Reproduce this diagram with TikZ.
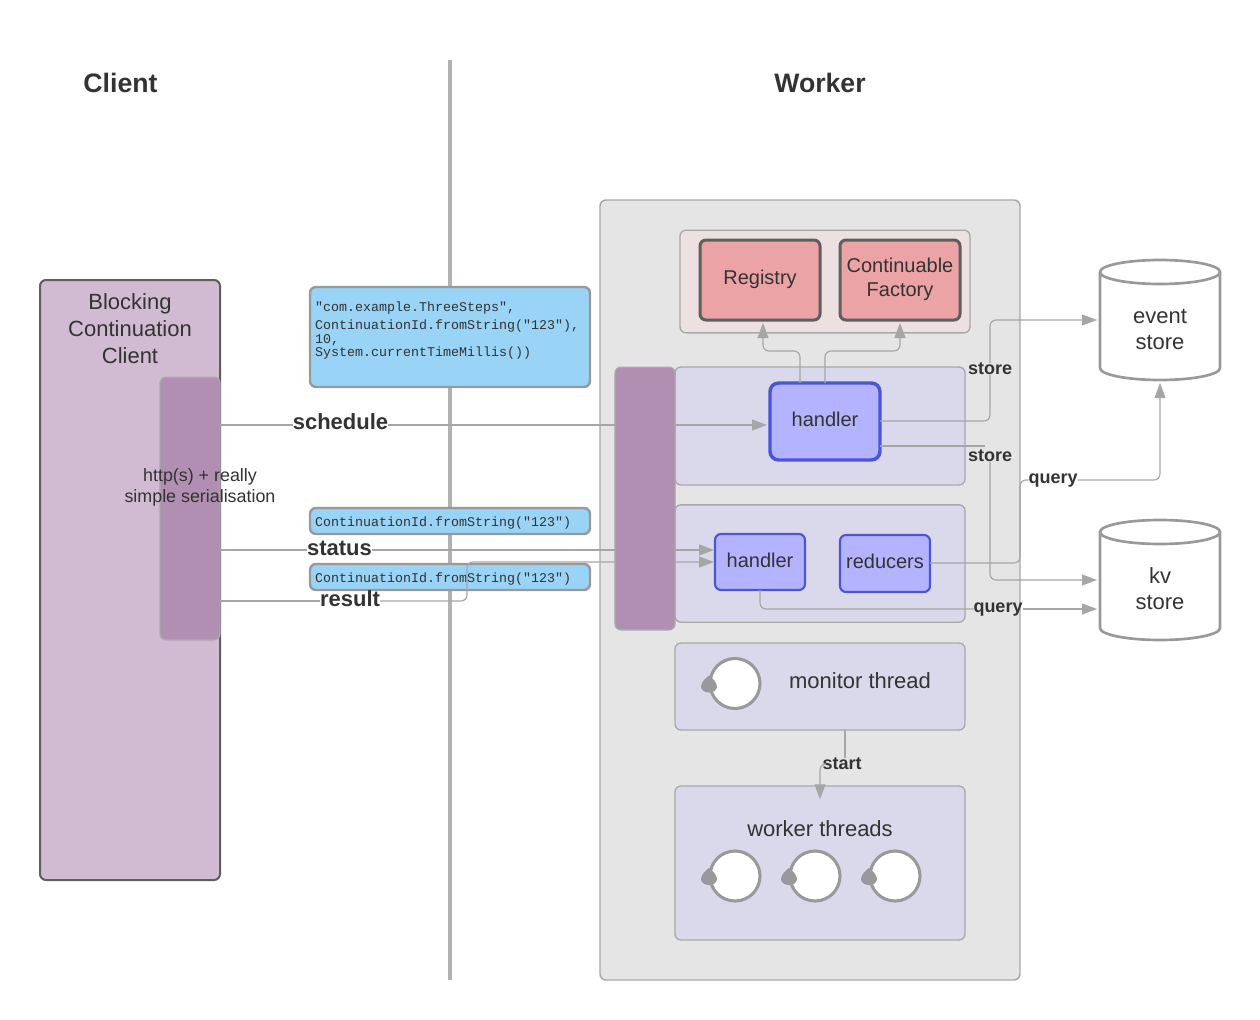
\documentclass[tikz,border=0pt]{standalone}
\usepackage{fontspec}
\setmainfont{Liberation Sans}
\setmonofont{Liberation Mono}
\usetikzlibrary{arrows.meta}
\definecolor{inkdark}{HTML}{333333}
\definecolor{edgedark}{HTML}{5E5E5E}
\definecolor{edgegrey}{HTML}{A8A8A8}
\definecolor{wiregrey}{HTML}{A6A6A6}
\definecolor{ringgrey}{HTML}{999999}
\definecolor{clientfill}{HTML}{D1BBD2}
\definecolor{portfill}{HTML}{B08FB2}
\definecolor{workerfill}{HTML}{E5E5E5}
\definecolor{sharedfill}{HTML}{EDE0E0}
\definecolor{groupfill}{HTML}{D9D9EB}
\definecolor{handlerfill}{HTML}{B3B3FF}
\definecolor{handleredge}{HTML}{4C55D6}
\definecolor{redfill}{HTML}{EBA3A6}
\definecolor{bluefill}{HTML}{99D3F5}
\tikzset{
  base/.style={outer sep=0pt,inner sep=0pt,rounded corners=4.5pt,align=center,text=inkdark},
  title/.style={base,font=\bfseries\fontsize{20}{24}\selectfont},
  plain/.style={base,font=\fontsize{16.5}{20.25}\selectfont},
  small/.style={base,font=\fontsize{13.4}{15.75}\selectfont},
  boxtext/.style={base,font=\fontsize{15}{18}\selectfont},
  clientbox/.style={plain,draw=edgedark,fill=clientfill,line width=1.5pt},
  portbox/.style={base,draw=edgegrey,fill=portfill,line width=1pt},
  workerbox/.style={base,draw=edgegrey,fill=workerfill,line width=1.1pt},
  sharedbox/.style={base,draw=edgegrey,fill=sharedfill,line width=1pt},
  groupbox/.style={plain,draw=edgegrey,fill=groupfill,line width=1pt},
  redbox/.style={base,draw=edgedark,fill=redfill,line width=2.25pt},
  handlerbox/.style={base,draw=handleredge,fill=handlerfill},
  msgbox/.style={base,draw=ringgrey,fill=bluefill,line width=1.8pt},
  msgtext/.style={base,font=\ttfamily\fontsize{10}{10}\selectfont},
  wirelabel/.style={base,font=\bfseries\fontsize{13.5}{16}\selectfont},
  calllabel/.style={base,font=\bfseries\fontsize{16.5}{18}\selectfont},
  storelabel/.style={plain,font=\fontsize{16.5}{19.5}\selectfont},
  wire/.style={draw=wiregrey,line width=0.85pt,rounded corners=4.5pt},
  wirearrow/.style={wire,-{Triangle[length=11.25pt,width=8.25pt,fill=wiregrey]},shorten >=2.25pt},
  threadring/.style={base,circle,draw=ringgrey,fill=white,line width=2.3pt,minimum size=37.5pt},
}
\begin{document}
\begin{tikzpicture}[x=0.75pt,y=-0.75pt]
\useasboundingbox (0,0) rectangle (1260,1020);

\node[title] (clienttitle) at (120.5,83) {Client};
\node[title] (workertitle) at (820,83) {Worker};
\draw[color=ringgrey!75!white,line width=3.4pt] (450,60) -- (450,980);

\node[clientbox,minimum width=135pt,minimum height=450pt] (client) at (130,580) {};
\node[plain] (clienttext) at (130,329) {Blocking\\[0pt]Continuation\\[0pt]Client};
\node[portbox,minimum width=45pt,minimum height=197pt] (clientport) at (190,508.5) {};

\node[workerbox,minimum width=315pt,minimum height=585pt] (worker) at (810,590) {};
\node[sharedbox,minimum width=217.5pt,minimum height=77pt] (shared) at (825,281.5) {};
\node[redbox,minimum width=90pt,minimum height=60pt] (registry) at (760,280) {};
\node[redbox,minimum width=90pt,minimum height=60pt] (factory) at (900,280) {};
\node[boxtext] (registrytext) at (760,279) {Registry};
\node[boxtext] (factorytext) at (900,279) {Continuable\\Factory};

\node[groupbox,minimum width=217.5pt,minimum height=88.5pt] (groupa) at (820,426) {};
\node[groupbox,minimum width=217.5pt,minimum height=88pt] (groupb) at (820,563.5) {};
\node[groupbox,minimum width=217.5pt,minimum height=65.25pt] (monitor) at (820,686.5) {};
\node[groupbox,minimum width=217.5pt,minimum height=115.5pt] (threads) at (820,863) {};
\node[plain] (monitortext) at (860,681) {monitor thread};
\node[plain] (threadstext) at (820,829) {worker threads};

\node[handlerbox,line width=2.6pt,rounded corners=6.5pt,minimum width=82.5pt,minimum height=57.75pt] (handlera) at (825,421.5) {};
\node[handlerbox,line width=1.6pt,minimum width=67.5pt,minimum height=42pt] (handlerb) at (760,562) {};
\node[handlerbox,line width=1.6pt,minimum width=67.5pt,minimum height=42.75pt] (reducers) at (885,563.5) {};
\node[boxtext] (handleratext) at (825,419) {handler};
\node[boxtext] (handlerbtext) at (760,560) {handler};
\node[boxtext] (reducerstext) at (885,561.5) {reducers};

\node[msgbox,minimum width=210pt,minimum height=75pt] (msgschedule) at (450,337) {};
\node[msgbox,minimum width=210pt,minimum height=19.5pt] (msgstatus) at (450,521) {};
\node[msgbox,minimum width=210pt,minimum height=19.5pt] (msgresult) at (450,577) {};
\node[msgtext,anchor=north west,align=left] (msgargs) at (315,302) {"com.example.ThreeSteps",\\[3.5pt]ContinuationId.fromString("123"),\\[0.5pt]10,\\System.currentTimeMillis())};
\node[msgtext,anchor=west] (idstatus) at (315,523) {ContinuationId.fromString("123")};
\node[msgtext,anchor=west] (idresult) at (315,579) {ContinuationId.fromString("123")};

\foreach \cname/\cx/\cy in {ringm/735/683.5,ringa/735/876,ringb/815/876,ringc/895/876}{
  \node[threadring] (\cname) at (\cx,\cy) {};
  \fill[ringgrey,shift={(\cname.center)}] (-26,-8) .. controls (-29,-6) and (-34,-1) .. (-34,3) .. controls (-34,7) and (-30,9) .. (-26,9) .. controls (-22,9) and (-18,7) .. (-18,3) .. controls (-18,-1) and (-23,-6) .. (-26,-8) -- cycle;
}

\node[calllabel] (lblschedule) at (340.5,422) {schedule};
\node[calllabel] (lblstatus) at (339.5,548) {status};
\node[calllabel] (lblresult) at (350,599) {result};
\node[wirelabel] (lblstorea) at (990,369) {store};
\node[wirelabel] (lblstoreb) at (990,456) {store};
\node[wirelabel] (lblquerya) at (1053,481) {query};
\node[wirelabel] (lblqueryb) at (998,610) {query};
\node[wirelabel] (lblstart) at (842,764) {start};

\node[base,minimum width=90pt,minimum height=90pt] (eventstore) at (1160,320) {};
\node[base,minimum width=90pt,minimum height=90pt] (kvstore) at (1160,580) {};
\node[storelabel] (eventtext) at (1160,329) {event\\store};
\node[storelabel] (kvtext) at (1160,589) {kv\\store};
\foreach \cname in {eventstore,kvstore}{
  \draw[draw=ringgrey,line width=2pt] ([yshift=36pt]\cname.west) arc[start angle=180,end angle=540,x radius=45pt,y radius=9pt] -- ([yshift=-36pt]\cname.west) arc[start angle=180,end angle=360,x radius=45pt,y radius=9pt] -- ([yshift=36pt]\cname.east);
}

\coordinate (rowschedule) at (0,425);
\coordinate (rowstatus) at (0,550);
\coordinate (rowresult) at (0,601);
\coordinate (rowreturn) at (0,562);
\coordinate (rowfork) at (0,351);
\coordinate (rowstorea) at (0,421);
\coordinate (rowstoreb) at (0,446);
\coordinate (rowquerya) at (0,480);
\coordinate (rowreduce) at (0,563);
\coordinate (rowqueryb) at (0,609);
\coordinate (colresult) at (467,0);
\coordinate (colstore) at (990,0);
\coordinate (colquery) at (1020,0);
\coordinate (colmon) at (845,0);
\coordinate (colstart) at (820,0);
\coordinate (colforka) at (800,0);
\coordinate (colforkb) at (825,0);
\coordinate (colreg) at (763,0);
\coordinate (colkvtop) at (1160,0);

\draw[wire] (clientport.east |- rowschedule) -- (lblschedule.west |- rowschedule);
\draw[wirearrow] (lblschedule.east |- rowschedule) -- (handlera.west |- rowschedule);
\draw[wire] (clientport.east |- rowstatus) -- (lblstatus.west |- rowstatus);
\draw[wirearrow,shorten >=0.75pt] (lblstatus.east |- rowstatus) -- (handlerb.west |- rowstatus);
\draw[wire] (clientport.east |- rowresult) -- (lblresult.west |- rowresult);
\draw[wirearrow,shorten >=0.75pt] (lblresult.east |- rowresult) -- (colresult |- rowresult) -- (colresult |- rowreturn) -- (handlerb.west |- rowreturn);

\draw[wirearrow] (colforka |- handlera.north) -- (colforka |- rowfork) -- (colreg |- rowfork) -- (colreg |- registry.south);
\draw[wirearrow] (colforkb |- handlera.north) -- (colforkb |- rowfork) -- (factory.south |- rowfork) -- (factory.south);

\draw[wire] (handlera.east |- rowstorea) -- (colstore |- rowstorea) -- (colstore |- lblstorea.south);
\draw[wirearrow] (colstore |- lblstorea.north) -- (colstore |- eventstore.west) -- (eventstore.west);
\draw[wire] (handlera.east |- rowstoreb) -- ([xshift=-3.75pt]colstore |- rowstoreb);
\draw[wirearrow] (colstore |- lblstoreb.south) -- (colstore |- kvstore.west) -- (kvstore.west);

\draw[wire] (reducers.east |- rowreduce) -- (colquery |- rowreduce) -- (colquery |- rowquerya) -- (lblquerya.west |- rowquerya);
\draw[wirearrow] (lblquerya.east |- rowquerya) -- (colkvtop |- rowquerya) -- (eventstore.south);
\draw[wire] (handlerb.south) -- (handlerb.south |- rowqueryb) -- (lblqueryb.west |- rowqueryb);
\draw[wirearrow] (lblqueryb.east |- rowqueryb) -- (kvstore.west |- rowqueryb);

\draw[wire] (colmon |- monitor.south) -- (colmon |- lblstart.north);
\draw[wirearrow,shorten >=-10pt] (lblstart.west) -- (colstart |- lblstart.west) -- (colstart |- threads.north);

\node[portbox,minimum width=45pt,minimum height=197pt] (workerport) at (645,498.5) {};
\node[small] (httptext) at (200,487) {http(s) + really\\simple serialisation};
\end{tikzpicture}
\end{document}
